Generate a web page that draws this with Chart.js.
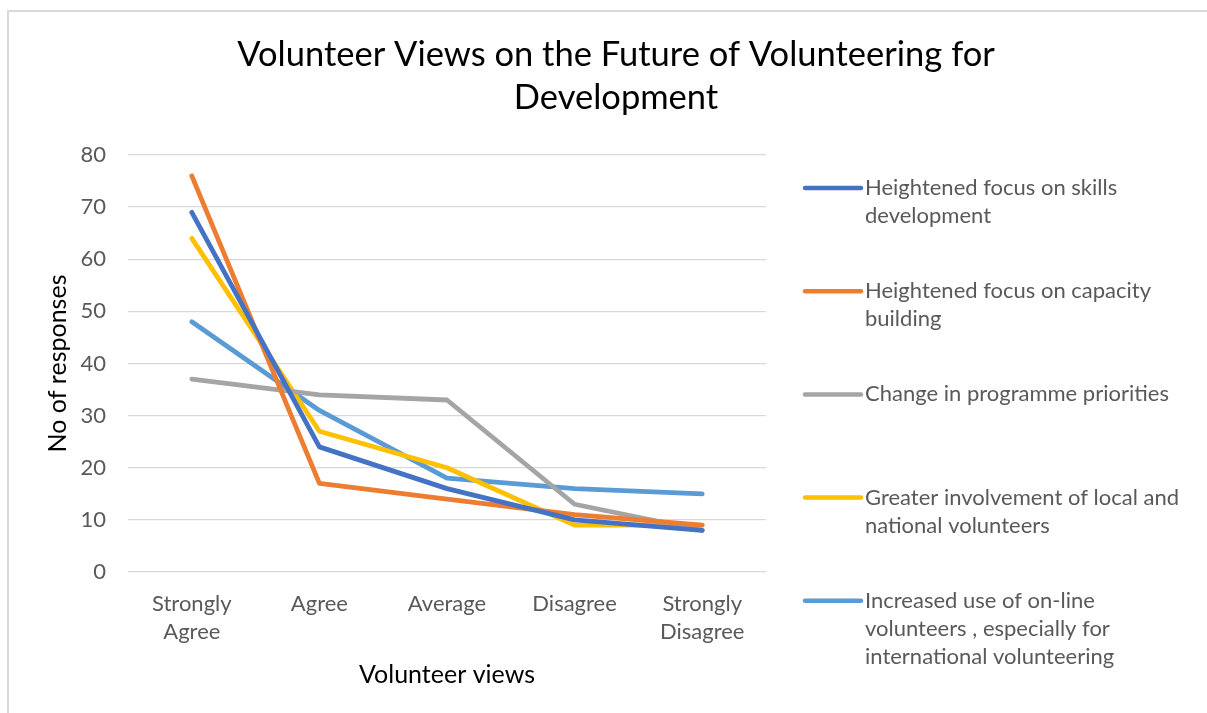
<!DOCTYPE html>
<html>
<head>
<meta charset="utf-8">
<script src="https://cdn.jsdelivr.net/npm/chart.js@4/dist/chart.umd.min.js"></script>
<style>
  html, body { margin: 0; padding: 0; background: #fff; overflow: hidden; }
  #wrap { position: absolute; left: 0; top: 0; width: 1232px; height: 713px; }
  #frame { position: absolute; left: 7px; top: 10px; width: 1240px; height: 720px;
           border-left: 2px solid #d9d9d9; border-top: 2px solid #d9d9d9; pointer-events: none; }
</style>
</head>
<body>
<div id="wrap"><canvas id="chart"></canvas></div>
<div id="frame"></div>
<script>
const categories = [['Strongly', 'Agree'], 'Agree', 'Average', 'Disagree', ['Strongly', 'Disagree']];
const seriesNames = [
  'Heightened focus on skills development',
  'Heightened focus on capacity building',
  'Change in programme priorities',
  'Greater involvement of local and national volunteers',
  'Increased use of on-line volunteers , especially for international volunteering'
];
const skills    = [69, 24, 16, 10, 8];
const capacity  = [76, 17, 14, 11, 9];
const programme = [37, 34, 33, 13, 8];
const localVols = [64, 27, 20, 9, 9];
const online    = [48, 31, 18, 16, 15];
const yTicks = [0, 10, 20, 30, 40, 50, 60, 70, 80];
const titleLines = ['Volunteer Views on the Future of Volunteering for', 'Development'];

const colors = ['#4472c4', '#ed7d31', '#a5a5a5', '#ffc000', '#5b9bd5'];
const FONT = 'Lato, "Open Sans", sans-serif';

Chart.defaults.font.family = FONT;

// title centred on the whole canvas, not just the plot area
const wideTitle = {
  id: 'wideTitle',
  afterDraw(chart) {
    const c = chart.ctx;
    c.save();
    c.font = '34.5px ' + FONT;
    c.fillStyle = '#000';
    c.textAlign = 'center';
    c.textBaseline = 'middle';
    titleLines.forEach((t, i) => c.fillText(t, chart.width / 2, 55 + i * 43));
    c.restore();
  }
};

// legend on the right with wrapped labels, first line level with the swatch
const sideLegend = {
  id: 'sideLegend',
  afterDraw(chart) {
    const c = chart.ctx;
    const x0 = 805, x1 = 861, tx = 865, maxW = 325;
    const top = 188, step = 103.2, lh = 28;
    c.save();
    c.font = '22px ' + FONT;
    c.textBaseline = 'middle';
    chart.data.datasets.forEach((ds, i) => {
      const y = top + i * step;
      c.strokeStyle = ds.borderColor;
      c.lineWidth = 4.5;
      c.lineCap = 'round';
      c.beginPath();
      c.moveTo(x0, y);
      c.lineTo(x1, y);
      c.stroke();
      // simple word wrap
      const words = ds.label.split(' ');
      let lines = [], cur = '';
      words.forEach(w => {
        const t = cur ? cur + ' ' + w : w;
        if (c.measureText(t).width > maxW && cur) { lines.push(cur); cur = w; }
        else cur = t;
      });
      lines.push(cur);
      c.fillStyle = '#595959';
      lines.forEach((ln, j) => c.fillText(ln, tx, y + j * lh));
    });
    c.restore();
  }
};

const ctx = document.getElementById('chart');
ctx.width = 1232;
ctx.height = 713;

const datasets = [skills, capacity, programme, localVols, online].map((d, i) => ({
  label: seriesNames[i],
  data: d,
  borderColor: colors[i],
  backgroundColor: colors[i],
  borderWidth: 4.8,
  borderCapStyle: 'round',
  borderJoinStyle: 'round',
  pointRadius: 0,
  tension: 0
}));

new Chart(ctx, {
  type: 'line',
  data: { labels: categories, datasets: datasets },
  options: {
    responsive: false,
    animation: false,
    layout: { padding: { left: 0, right: 466, top: 155, bottom: 0 } },
    plugins: {
      legend: { display: false },
      tooltip: { enabled: false },
      title: { display: false }
    },
    scales: {
      x: {
        offset: true,
        grid: { display: false, drawTicks: false },
        border: { display: false },
        ticks: { color: '#595959', font: { size: 22, lineHeight: 1.27 }, padding: 18, maxRotation: 0, autoSkip: false },
        title: { display: true, text: 'Volunteer views', color: '#000', font: { size: 25 }, padding: 23 },
        afterFit(scale) { scale.height = 141; }
      },
      y: {
        min: 0,
        max: 80,
        afterBuildTicks(scale) { scale.ticks = yTicks.map(v => ({ value: v })); },
        grid: { color: '#d9d9d9', lineWidth: 1.3, drawTicks: false },
        border: { display: false },
        ticks: { color: '#595959', font: { size: 22 }, padding: 22 },
        title: { display: true, text: 'No of responses', color: '#000', font: { size: 25 }, padding: { top: 43, bottom: 0 } },
        afterFit(scale) { scale.width = 128; }
      }
    }
  },
  plugins: [wideTitle, sideLegend]
});
</script>
</body>
</html>
